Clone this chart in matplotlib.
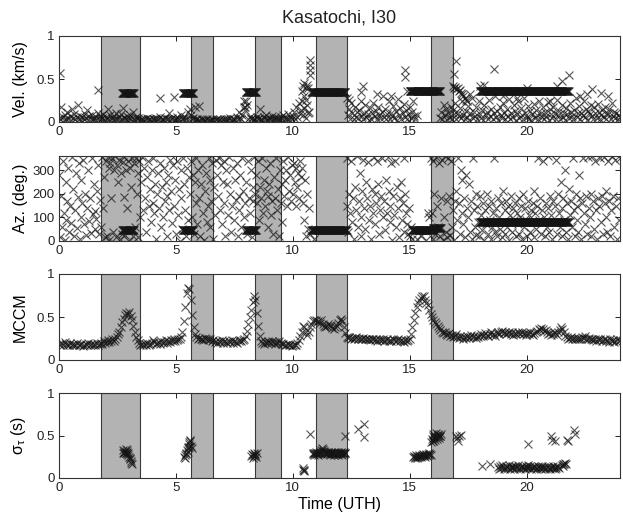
import numpy as np
import matplotlib
matplotlib.use("Agg")
import matplotlib.pyplot as plt

plt.rcParams['font.family'] = ['Liberation Sans', 'DejaVu Sans']
plt.rcParams['mathtext.fontset'] = 'custom'
plt.rcParams['mathtext.rm'] = 'Liberation Sans'
plt.rcParams['mathtext.it'] = 'Liberation Sans:italic'

# ---------------------------------------------------------------- common
TITLE = "Kasatochi, I30"
XLABEL = "Time (UTH)"
XTICKS = [0, 5, 10, 15, 20]
XLIM = (0, 24)
# detection windows (hours, UTH)
bands = [(1.8, 3.45), (5.65, 6.6), (8.4, 9.5), (11.0, 12.3), (15.9, 16.85)]

# ---------------------------------------------------------------- velocity (km/s, x100)
vel_noise_a_start, vel_noise_a_step = 0.0, 0.05
vel_noise_a = [
    5, 3, 18, 6, 2, 8, 4, 12, 3, 7,
    2, 15, 5, 9, 3, 6, 20, 4, 7, 2,
    6, 3, 9, 5, 14, 2, 7, 4, 8, 3,
    5, 2, 6, 10, 4, 7, 3, 5, 9, 2,
    6, 4, 15, 3, 8, 5, 2, 7, 4, 11,
    3, 6, 2, 9, 4, 16, 5, 3, 7, 2,
    5, 8, 3, 12, 4, 2, 6, 3, 5, 2,
    3, 2, 4, 1, 3, 5, 2, 4, 3, 2,
    4, 3, 2, 5, 1, 3, 6, 2, 4, 3,
    2, 5, 3, 4, 10, 2, 3, 5, 2, 4,
    3, 6, 2, 4, 8, 3, 5, 2, 6, 3,
    12, 4, 15, 8, 3, 5, 2, 4, 3, 1,
    2, 1, 3, 2, 1, 2, 0, 3, 1, 2,
    1, 3, 2, 1, 2, 4, 1, 2, 3, 1,
    2, 3, 1, 4, 2, 3, 5, 2, 1, 3,
    4, 2, 6, 3, 12, 5, 3, 8, 18, 14,
    25, 20, 4, 6, 3, 5, 2, 4, 3, 6,
    3, 5, 15, 4, 2, 6, 3, 8, 4, 2,
    5, 3, 7, 2, 4, 6, 3, 5, 2, 4,
    6, 3, 8, 4, 5, 3, 9, 4, 6, 3,
    7, 12, 4, 18, 6, 22, 9, 14, 25, 8,
    16, 5, 20, 10, 12,
]
vel_noise_b_start, vel_noise_b_step = 12.3, 0.05
vel_noise_b = [
    28, 8, 15, 4, 22, 10, 3, 18, 6, 12,
    5, 14, 25, 7, 3, 11, 20, 6, 9, 2,
    16, 4, 10, 22, 7, 13, 3, 18, 8, 5,
    12, 30, 6, 15, 4, 9, 24, 3, 11, 7,
    19, 5, 13, 2, 27, 8, 16, 4, 10, 21,
    6, 14, 3, 9, 18, 5, 12, 24, 7, 4,
    8,
]
vel_noise_c_start, vel_noise_c_step = 16.3, 0.05
vel_noise_c = [
    5, 12, 3, 20, 8, 15, 2, 10, 6, 18,
    4, 14, 9, 22, 3, 11, 7, 16, 5, 25,
    8, 3, 13, 6, 19, 2, 10, 28, 5, 12,
    7, 17, 3, 24, 9, 5, 14, 2, 20, 8,
    12, 4, 26, 7, 15, 3, 10, 30, 6, 13,
    2, 18, 8, 5, 22, 11, 4, 15, 7, 27,
    3, 10, 6, 20, 13, 2, 9, 24, 5, 16,
    8, 3, 28, 11, 6, 19, 4, 13, 2, 9,
    21, 5, 14, 8, 3, 25, 10, 6, 17, 4,
    12, 7, 23, 2, 15, 9, 5, 18, 11, 3,
    26, 8, 13, 4, 20, 6, 10, 2, 16, 9,
    5, 22, 12, 7, 3, 14, 28, 6, 10, 19,
    4, 11, 8, 24, 6, 15, 2, 13, 9, 20,
    7, 3, 17, 10, 5, 21, 12, 4, 8, 14,
    6, 18, 3, 11, 9, 15, 4, 22, 7, 12,
    5, 10, 3, 8, 6,
]
# steady arrivals: (start h, end h, km/s)
vel_lines = [(2.7, 3.2, 0.34), (5.3, 5.75, 0.34), (8.0, 8.45, 0.35),
             (10.8, 12.25, 0.35), (15.0, 16.3, 0.36), (18.0, 21.8, 0.36)]
vel_extra_t = [0.05, 1.67, 4.3, 4.9, 5.8, 6.0, 7.9, 7.95,
               10.4, 10.45, 10.5, 10.55, 10.6, 10.65, 10.5, 10.58,
               10.72, 10.72, 10.72, 10.72,
               12.4, 12.9, 13.0, 13.6, 14.2, 14.8, 14.8, 14.9,
               16.85, 16.9, 16.95, 17.0, 17.05, 17.1, 17.15, 17.2, 17.25, 17.3,
               17.35, 17.4, 17.45, 16.9, 17.0,
               17.6, 18.0, 18.2, 18.6, 19.0, 19.6, 20.0, 20.8, 21.0, 21.3,
               21.5, 21.8, 22.3, 22.6, 22.8, 23.2, 23.5]
vel_extra_v = [0.57, 0.37, 0.28, 0.29, 0.18, 0.19, 0.25, 0.18,
               0.36, 0.42, 0.45, 0.40, 0.43, 0.39, 0.30, 0.26,
               0.55, 0.60, 0.66, 0.72,
               0.26, 0.35, 0.42, 0.33, 0.30, 0.52, 0.61, 0.36,
               0.42, 0.40, 0.41, 0.38, 0.39, 0.36, 0.37, 0.34, 0.32, 0.30,
               0.28, 0.26, 0.24, 0.56, 0.71,
               0.33, 0.42, 0.43, 0.62, 0.30, 0.28, 0.40, 0.36, 0.25, 0.42,
               0.48, 0.55, 0.30, 0.32, 0.38, 0.34, 0.30]

# ---------------------------------------------------------------- azimuth (deg)
az_a_start, az_a_step = 0.0, 0.04
az_a = [
    280, 15, 190, 60, 340, 120, 5, 250, 90, 170,
    310, 40, 150, 75, 355, 220, 20, 130, 290, 55,
    185, 330, 10, 100, 260, 160, 345, 70, 200, 25,
    140, 300, 85, 180, 35, 350, 115, 240, 50, 125,
    95, 210, 320, 30, 175, 60, 355, 140, 270, 15,
    340, 20, 355, 310, 5, 330, 180, 350, 40, 300,
    360, 15, 320, 250, 345, 10, 290, 30, 335, 185,
    355, 25, 300, 140, 340, 0, 310, 230, 350, 20,
    330, 60, 350, 200, 15, 290, 340, 100, 250, 355,
    130, 310, 180, 40, 270, 340, 150, 220, 80, 300,
    160, 350, 120, 240, 10, 200, 290, 140, 330, 60,
    230, 100, 310, 170, 250, 20, 190, 280, 130, 345,
    210, 75, 320, 150, 260, 30, 340, 110, 220, 0,
    300, 180, 50, 350, 240, 130, 20, 310, 90, 270,
    200, 340, 100, 280, 30, 250, 160, 350, 70, 300,
    180, 20, 240, 320, 120, 5, 210, 290, 80, 150,
    350, 60, 260, 170, 330, 10, 230, 110, 345, 280,
    190, 350, 130, 320, 70, 250, 340, 160, 20, 300,
    240, 110, 355, 200, 40, 150, 310, 90, 260, 175,
    330, 20, 190, 130, 280, 60, 350, 210, 100, 160,
    250, 30, 340, 180, 120, 300, 15, 230, 170, 355,
    200, 280, 160, 340, 90, 230, 180, 350, 120, 260,
    150, 310, 210, 60, 190, 240, 330, 110, 170, 30,
    270, 180, 350, 130, 220, 20, 300, 160, 240, 80,
    340, 190, 260, 300, 150, 355, 210, 280, 170, 320,
    200, 330, 250, 150, 310, 230, 290, 180, 340, 270,
    310, 160, 90, 260, 20, 200, 50, 140,
]
az_b_start, az_b_step = 12.3, 0.04
az_b = [
    150, 350, 40, 200, 120, 340, 80, 180, 10, 230,
    130, 360, 60, 170, 290, 100, 20, 210, 345, 140,
    50, 250, 180, 335, 90, 150, 10, 220, 120, 355,
    200, 70, 160, 340, 240, 30, 130, 190, 350, 100,
    170, 45, 260, 120, 355, 210, 80, 150, 330, 5,
    190, 110, 340, 60, 230, 140, 15, 180, 250, 90,
    160, 350, 40, 200, 120, 70, 30, 140, 20, 60,
    10,
]
az_c_start, az_c_step = 15.9, 0.04
az_c = [
    350, 120, 10, 340, 200, 30, 355, 150, 60, 330,
    20, 180, 345, 5, 100, 360, 40, 170, 15, 350,
    190, 25, 340, 60, 130, 5, 170, 210, 90, 350,
    160, 30, 300, 120, 260, 70, 180, 15, 280, 140,
    100, 240, 40, 170, 10, 350, 130, 60, 200, 25,
    150, 80, 20, 190, 110, 45, 160, 5, 130, 70,
    200, 30, 150, 90, 10, 170, 60, 120, 350, 40,
    140, 20, 180, 100, 50, 160, 15, 210, 80, 130,
    30, 170, 60, 150, 5, 110, 190, 40, 140, 90,
    160, 20, 120, 70, 180, 30, 100, 150, 10, 200,
    60, 140, 90, 20, 170, 110, 40, 130, 80, 160,
    15, 210, 120, 50, 150, 350, 90, 180, 30, 130,
    340, 100, 20, 160, 60, 360, 140, 40, 190, 110,
    10, 170, 80, 150, 345, 30, 200, 120, 60, 250,
    140, 20, 180, 90, 300, 40, 160, 10, 220, 110,
    170, 60, 350, 130, 20, 200, 90, 150, 40, 280,
    180, 10, 160, 350, 120, 70, 190, 30, 355, 140,
    100, 200, 20, 360, 170, 50, 340, 130, 10, 180,
    150, 350, 80, 190, 30, 355, 160, 100, 210, 40,
    340, 170, 20, 130, 360, 190, 60, 345, 150, 10,
    180, 90, 350,
]
az_lines = [(2.7, 3.2, 48), (5.3, 5.75, 48), (8.0, 8.45, 48),
            (10.8, 12.3, 45), (15.1, 16.0, 45), (16.0, 16.35, 55),
            (18.0, 21.8, 80)]
az_extra_t = [10.75, 10.9, 15.3, 15.5, 15.7, 15.85, 15.8]
az_extra_v = [30, 10, 10, 20, 5, 100, 120]

# ---------------------------------------------------------------- MCCM (x100)
mccm_start, mccm_step = 0.0, 0.06
mccm = [
    19, 17, 20, 18, 21, 19, 17, 18, 20, 18,
    19, 17, 18, 20, 17, 18, 19, 16, 18, 19,
    18, 20, 17, 19, 18, 19, 17, 20, 18, 19,
    20, 19, 22, 20, 21, 23, 21, 22, 24, 22,
    25, 27, 30, 33, 38, 44, 48, 52, 55, 53,
    56, 51, 46, 40, 33, 27, 23, 20, 18, 19,
    17, 19, 18, 20, 18, 19, 20, 23, 21, 19,
    20, 21, 19, 22, 20, 21, 23, 20, 22, 21,
    23, 22, 24, 22, 23, 25, 24, 27, 33, 45,
    62, 78, 84, 82, 70, 52, 38, 30, 27, 25,
    26, 24, 25, 23, 26, 24, 25, 23, 24, 22,
    23, 21, 22, 20, 22, 21, 23, 20, 22, 21,
    20, 22, 21, 23, 20, 22, 21, 20, 22, 23,
    22, 23, 25, 28, 34, 42, 50, 58, 68, 74,
    70, 55, 40, 28, 22, 20, 19, 21, 20, 22,
    21, 20, 22, 21, 19, 21, 20, 22, 20, 19,
    19, 18, 17, 19, 18, 17, 16, 18, 17, 18,
    20, 23, 28, 33, 40, 38, 32, 29, 33, 38,
    42, 45, 47, 46, 44, 45, 43, 46, 42, 40,
    38, 40, 42, 41, 39, 37, 36, 38, 40, 43,
    46, 48, 45, 38, 31, 27, 26, 27, 25, 26,
    25, 26, 27, 25, 26, 24, 25, 26, 24, 25,
    24, 25, 23, 24, 25, 23, 24, 22, 24, 23,
    23, 24, 22, 23, 24, 22, 23, 22, 24, 23,
    22, 23, 24, 22, 23, 22, 21, 23, 22, 23,
    25, 30, 38, 47, 55, 62, 66, 70, 72, 74,
    75, 70, 66, 64, 58, 54, 50, 47, 44, 42,
    40, 37, 35, 33, 31, 32, 30, 29, 31, 28,
    29, 27, 28, 30, 27, 26, 28, 27, 25, 27,
    26, 28, 26, 27, 29, 27, 28, 26, 28, 27,
    28, 30, 28, 29, 31, 29, 28, 30, 32, 29,
    30, 28, 31, 33, 30, 32, 34, 31, 33, 30,
    31, 33, 30, 32, 29, 31, 30, 33, 31, 30,
    32, 30, 31, 29, 31, 30, 32, 30, 29, 31,
    32, 34, 36, 35, 37, 36, 34, 35, 33, 30,
    31, 29, 30, 32, 31, 29, 33, 35, 38, 36,
    32, 28, 27, 25, 26, 27, 25, 26, 24, 25,
    26, 24, 25, 27, 26, 28, 25, 24, 26, 24,
    25, 23, 24, 22, 24, 23, 25, 22, 23, 24,
    22, 23, 21, 24, 22, 23, 21, 22, 24, 22,
    23,
]

# ---------------------------------------------------------------- sigma_tau (s)
sig_t = [2.72, 2.75, 2.78, 2.80, 2.82, 2.85, 2.88, 2.90, 2.92, 2.95, 2.97, 3.00,
         3.02, 3.05, 3.08, 3.10, 3.12, 2.86, 2.93,
         5.35, 5.38, 5.40, 5.42, 5.45, 5.48, 5.50, 5.52, 5.55, 5.58, 5.60, 5.62,
         5.65, 5.55, 5.50, 5.68,
         8.20, 8.25, 8.28, 8.30, 8.33, 8.35, 8.38, 8.40, 8.42, 8.45,
         10.42, 10.45, 10.48, 10.50, 10.75, 12.22, 12.80, 13.05, 13.05,
         15.92, 15.95, 15.98, 16.00, 16.02, 16.05, 16.08, 16.10, 16.12, 16.15,
         16.18, 16.20, 16.22, 16.25, 16.28, 16.00, 16.10, 16.20, 16.30, 16.35,
         17.00, 17.02, 17.05, 17.10, 17.20,
         18.10, 18.45, 20.05,
         21.05, 21.08, 21.20, 21.75, 21.78, 22.05, 22.08,
         21.50, 21.55, 21.60, 21.65, 21.70, 21.58]
sig_v = [0.30, 0.33, 0.31, 0.29, 0.32, 0.34, 0.30, 0.28, 0.31, 0.27, 0.29, 0.25,
         0.22, 0.24, 0.20, 0.18, 0.17, 0.30, 0.33,
         0.25, 0.27, 0.24, 0.28, 0.30, 0.33, 0.35, 0.37, 0.40, 0.42, 0.44, 0.45,
         0.38, 0.36, 0.31, 0.35,
         0.26, 0.28, 0.24, 0.27, 0.29, 0.26, 0.28, 0.27, 0.25, 0.29,
         0.12, 0.10, 0.08, 0.09, 0.52, 0.50, 0.58, 0.63, 0.48,
         0.42, 0.46, 0.44, 0.49, 0.52, 0.47, 0.50, 0.45, 0.53, 0.48,
         0.46, 0.51, 0.49, 0.47, 0.50, 0.44, 0.48, 0.52, 0.50, 0.52,
         0.50, 0.47, 0.44, 0.49, 0.51,
         0.14, 0.16, 0.40,
         0.50, 0.45, 0.44, 0.45, 0.44, 0.57, 0.52,
         0.15, 0.17, 0.16, 0.18, 0.17, 0.14]
# dense stretches (x100)
sig_b_start, sig_b_step = 10.85, 0.025
sig_b = [30, 28, 29, 27, 30, 28, 31, 29, 28, 30, 27, 29, 31, 30, 33, 31, 35, 32,
         34, 31, 32, 30, 29, 31, 30, 28, 31, 29, 28, 30, 27, 29, 31, 28, 30, 29,
         27, 30, 28, 31, 29, 30, 28, 31, 27, 29, 30, 28, 31, 29, 27, 30, 29, 31,
         28, 30, 29]
sig_c_start, sig_c_step = 15.15, 0.03
sig_c = [25, 26, 24, 25, 27, 25, 24, 26, 25, 27, 26, 25, 27, 26, 28, 26, 27,
         25, 27, 28, 26, 28, 27, 29, 28, 27]
sig_d_start, sig_d_step = 18.8, 0.04
sig_d = [13, 11, 14, 12, 15, 13, 11, 12, 14, 13, 12, 15, 11, 13, 14, 12, 13, 11,
         14, 12, 13, 15, 12, 11, 13, 14, 12, 13, 11, 14, 12, 13, 15, 12, 14, 11,
         13, 12, 14, 13, 11, 12, 14, 13, 12, 11, 13, 14, 12, 13, 11, 12, 13, 14,
         12, 11, 13, 12, 14, 12, 11, 13, 12, 14, 13, 12]


def grid(start, step, values, scale=1.0):
    v = np.asarray(values, dtype=float) * scale
    t = start + step * np.arange(len(v))
    return t, v


def line_pts(segs, step=0.02):
    ts, vs = [], []
    for a, b, val in segs:
        t = np.arange(a, b + 1e-9, step)
        ts.append(t)
        vs.append(np.full_like(t, val, dtype=float))
    return np.concatenate(ts), np.concatenate(vs)


MK = dict(linestyle='none', marker='x', color='0.08', alpha=0.72,
          markersize=5.6, markeredgewidth=0.8, zorder=3)

W, H = 623, 516
fig = plt.figure(figsize=(W / 100, H / 100), dpi=100)
left, right = 59 / W, 620 / W
panels_px = [(36, 122), (156, 241), (274, 360), (393, 478)]
axes = []
for top, bot in panels_px:
    ax = fig.add_axes([left, 1 - bot / H, right - left, (bot - top) / H])
    axes.append(ax)

for ax in axes:
    for a, b in bands:
        ax.axvspan(a, b, facecolor='#b3b3b3', edgecolor='#3a3a3a',
                   linewidth=0.8, zorder=1)
    ax.set_xlim(*XLIM)
    ax.set_xticks(XTICKS)
    ax.tick_params(direction='in', top=True, right=True, length=3.5,
                   width=0.7, labelsize=9.5, pad=3, colors='#222222')
    for s in ax.spines.values():
        s.set_linewidth(0.8)
        s.set_color('#333333')
        s.set_zorder(5)

# velocity
ax = axes[0]
for st, sp, vals in [(vel_noise_a_start, vel_noise_a_step, vel_noise_a),
                     (vel_noise_b_start, vel_noise_b_step, vel_noise_b),
                     (vel_noise_c_start, vel_noise_c_step, vel_noise_c)]:
    t, v = grid(st, sp, vals, 0.01)
    ax.plot(t, v, **MK)
t, v = line_pts(vel_lines)
ax.plot(t, v, **MK)
ax.plot(vel_extra_t, vel_extra_v, **MK)
ax.set_ylim(0, 1)
ax.set_yticks([0, 0.5, 1])
ax.set_yticklabels(['0', '0.5', '1'])
ax.set_ylabel('Vel. (km/s)', fontsize=11.5)

# azimuth
ax = axes[1]
for st, sp, vals in [(az_a_start, az_a_step, az_a),
                     (az_b_start, az_b_step, az_b),
                     (az_c_start, az_c_step, az_c)]:
    t, v = grid(st, sp, vals)
    ax.plot(t, v, **MK)
t, v = line_pts(az_lines)
ax.plot(t, v, **MK)
ax.plot(az_extra_t, az_extra_v, **MK)
ax.set_ylim(0, 360)
ax.set_yticks([0, 100, 200, 300])
ax.set_ylabel('Az. (deg.)', fontsize=11.5)

# MCCM
ax = axes[2]
t, v = grid(mccm_start, mccm_step, mccm, 0.01)
ax.plot(t, v, **MK)
ax.set_ylim(0, 1)
ax.set_yticks([0, 0.5, 1])
ax.set_yticklabels(['0', '0.5', '1'])
ax.set_ylabel('MCCM', fontsize=11.5)

# sigma_tau
ax = axes[3]
ax.plot(sig_t, sig_v, **MK)
for st, sp, vals in [(sig_b_start, sig_b_step, sig_b),
                     (sig_c_start, sig_c_step, sig_c),
                     (sig_d_start, sig_d_step, sig_d)]:
    t, v = grid(st, sp, vals, 0.01)
    ax.plot(t, v, **MK)
ax.set_ylim(0, 1)
ax.set_yticks([0, 0.5, 1])
ax.set_yticklabels(['0', '0.5', '1'])
ax.set_ylabel(r'σ$_{\mathregular{τ}}$ (s)', fontsize=11.5)
ax.set_xlabel(XLABEL, fontsize=11.5, labelpad=2)

for ax in axes:
    ax.yaxis.set_label_coords(-0.055, 0.5)

fig.text((left + right) / 2, 1 - 18 / H, TITLE, ha='center', va='center',
         fontsize=13, color='#222222')

fig.savefig('out.png', dpi=100)
